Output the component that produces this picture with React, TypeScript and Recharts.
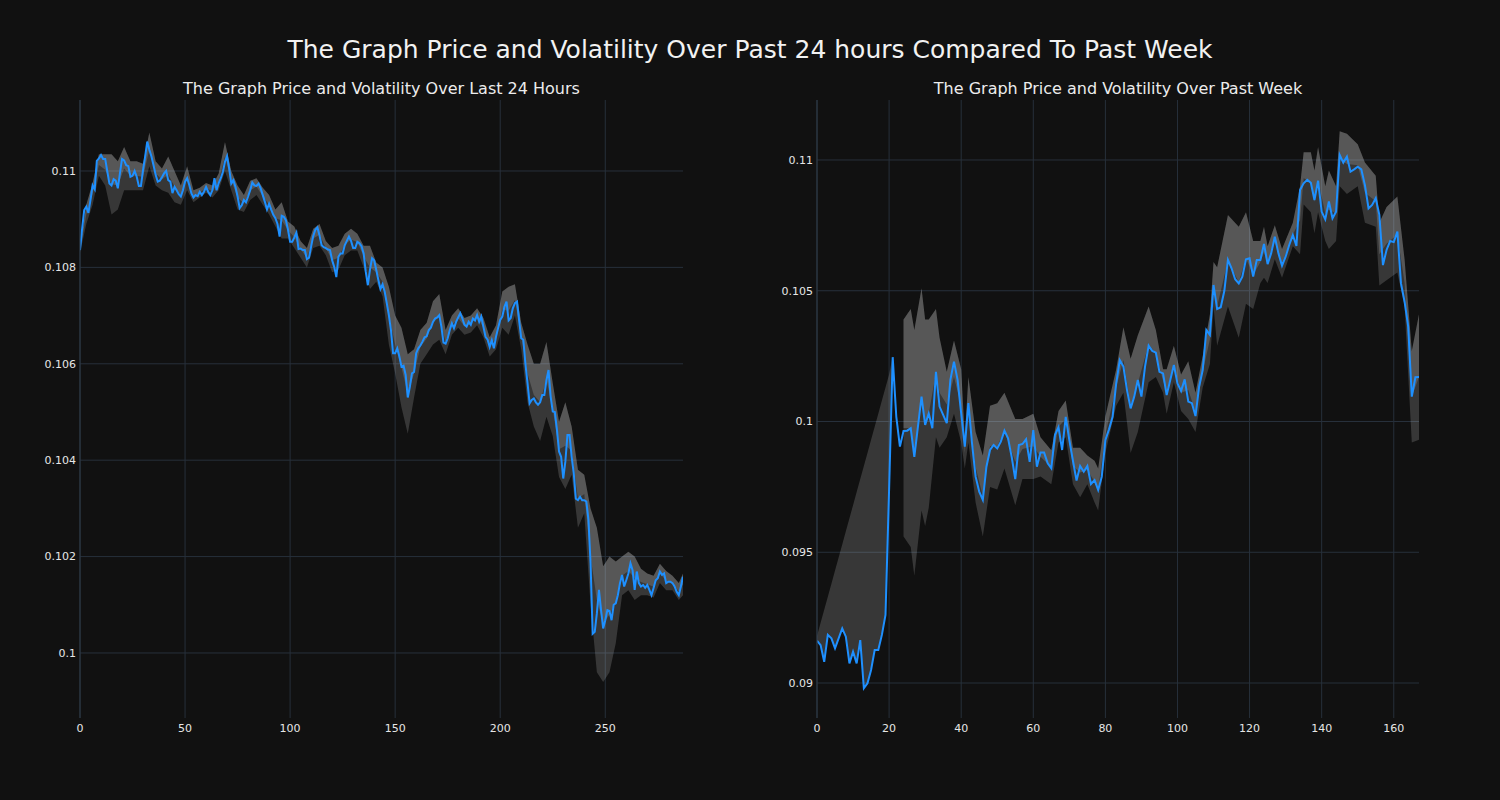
import React from "react";
import { ComposedChart, Line, Area, XAxis, YAxis, CartesianGrid } from "recharts";

// last 24 hours, 5 minute steps
const dayPrice = [
  0.10836, 0.1088, 0.10919, 0.10926, 0.10913, 0.1094, 0.1097, 0.10962, 0.11021, 0.11026, 0.11033, 0.11025,
  0.11025, 0.10999, 0.10974, 0.1097, 0.10983, 0.1098, 0.10964, 0.10995, 0.11025, 0.11022, 0.11012, 0.1101,
  0.10988, 0.1099, 0.11, 0.10988, 0.10969, 0.10969, 0.11002, 0.1103, 0.11061, 0.11044, 0.1103, 0.11012,
  0.10992, 0.10978, 0.1098, 0.10987, 0.10995, 0.11, 0.10981, 0.10978, 0.10954, 0.10967, 0.1096, 0.10952,
  0.10947, 0.1096, 0.10978, 0.10985, 0.10971, 0.10954, 0.10945, 0.1095, 0.10948, 0.10957, 0.1095, 0.10957,
  0.10967, 0.10957, 0.1095, 0.1096, 0.10985, 0.1096, 0.10975, 0.10985, 0.10998, 0.11019, 0.11031, 0.11005,
  0.10974, 0.10981, 0.10967, 0.10947, 0.10923, 0.10929, 0.1094, 0.10935, 0.10947, 0.1096, 0.10976, 0.1097,
  0.10969, 0.10974, 0.10964, 0.1095, 0.10936, 0.1092, 0.10932, 0.1092, 0.10909, 0.10902, 0.1089, 0.10864,
  0.10907, 0.10905, 0.10898, 0.10878, 0.10853, 0.10853, 0.10862, 0.10872, 0.10838, 0.10839, 0.10836, 0.10836,
  0.10817, 0.1082, 0.10843, 0.10865, 0.10878, 0.10883, 0.10866, 0.10846, 0.10842, 0.1084, 0.10837, 0.10836,
  0.10815, 0.10801, 0.1078, 0.10822, 0.10829, 0.10829, 0.10846, 0.10855, 0.10864, 0.10855, 0.1084, 0.1084,
  0.10853, 0.1085, 0.10844, 0.10829, 0.10791, 0.10763, 0.10795, 0.10819, 0.10815, 0.10795, 0.10774, 0.10755,
  0.10765, 0.1075, 0.10726, 0.10701, 0.1067, 0.10622, 0.10622, 0.10632, 0.10615, 0.10594, 0.10596, 0.10577,
  0.1053, 0.10552, 0.1058, 0.10583, 0.10622, 0.10632, 0.10638, 0.10646, 0.10655, 0.10657, 0.1067, 0.10675,
  0.10687, 0.10694, 0.10696, 0.10701, 0.10677, 0.10644, 0.10642, 0.10653, 0.1067, 0.10684, 0.10674, 0.10687,
  0.10696, 0.10705, 0.10694, 0.10681, 0.10677, 0.10687, 0.10681, 0.10694, 0.1069, 0.10701, 0.10687, 0.10698,
  0.10677, 0.10656, 0.1065, 0.10635, 0.10649, 0.10632, 0.10656, 0.10674, 0.10691, 0.10698, 0.10718, 0.10729,
  0.1069, 0.10695, 0.10715, 0.10726, 0.10729, 0.1069, 0.10653, 0.1065, 0.106, 0.1056, 0.10518, 0.10525,
  0.10528, 0.1052, 0.10515, 0.1052, 0.10535, 0.10535, 0.10566, 0.10587, 0.10532, 0.10501, 0.105, 0.10463,
  0.10418, 0.10407, 0.10362, 0.10397, 0.10452, 0.10452, 0.10407, 0.10373, 0.1032, 0.10317, 0.10324, 0.10317,
  0.10317, 0.10314, 0.10276, 0.10186, 0.1004, 0.10044, 0.10082, 0.10131, 0.10089, 0.10051, 0.10068, 0.10089,
  0.10087, 0.10068, 0.101, 0.10103, 0.1012, 0.10145, 0.10162, 0.10138, 0.10151, 0.10165, 0.10186, 0.10172,
  0.10131, 0.10169, 0.10145, 0.10138, 0.10141, 0.10135, 0.10141, 0.10131, 0.1012, 0.10135, 0.10151, 0.10155,
  0.10169, 0.10162, 0.10165, 0.10145, 0.10148, 0.10148, 0.10145, 0.10138, 0.10127, 0.1012, 0.10138, 0.10158,
];

// volatility band, read every few steps
const dayBandX = [
  0, 3, 6, 9, 12, 15, 18, 21, 24, 27, 30, 33, 36, 39, 42, 45, 48, 51, 54, 57, 60, 63, 66, 69,
  72, 75, 78, 81, 84, 87, 90, 93, 96, 99, 102, 105, 108, 111, 114, 117, 120, 123, 126, 129, 132, 135, 138, 141,
  144, 147, 150, 153, 156, 159, 162, 165, 168, 171, 174, 177, 180, 183, 186, 189, 192, 195, 198, 201, 204, 207,
  210, 213, 216, 219, 222, 225, 228, 231, 234, 237, 240, 243, 246, 249, 252, 255, 258, 261, 264, 267, 270, 273,
  276, 279, 282, 285, 287,
];
const dayBandLow = [
  0.1083, 0.1089, 0.1093, 0.1099, 0.1097, 0.1091, 0.1092, 0.1096, 0.1096, 0.1096, 0.1096, 0.1101, 0.1097, 0.1096,
  0.10955, 0.10935, 0.1093, 0.1096, 0.10935, 0.10945, 0.10955, 0.10945, 0.1096, 0.11, 0.1096, 0.1092, 0.10915,
  0.1094, 0.1095, 0.1093, 0.1091, 0.10885, 0.1086, 0.1086, 0.1084, 0.1082, 0.108, 0.1084, 0.10845, 0.10825,
  0.1079, 0.10795, 0.10825, 0.10835, 0.10835, 0.108, 0.10755, 0.1077, 0.1074, 0.1064, 0.1058, 0.1051, 0.10455,
  0.1053, 0.106, 0.1062, 0.1064, 0.1065, 0.1062, 0.1066, 0.10675, 0.1066, 0.10665, 0.1068, 0.10655, 0.10615,
  0.1063, 0.10675, 0.1066, 0.107, 0.1063, 0.1052, 0.1047, 0.1044, 0.1049, 0.1045, 0.10365, 0.1034, 0.1037,
  0.1026, 0.1029, 0.101, 0.0996, 0.0994, 0.0996, 0.1002, 0.1012, 0.1013, 0.1011, 0.1012, 0.1012, 0.10115,
  0.10145, 0.1013, 0.1013, 0.1011, 0.1012,
];
const dayBandHigh = [
  0.1084, 0.1093, 0.10975, 0.11035, 0.11035, 0.11035, 0.1102, 0.1105, 0.1102, 0.1102, 0.11015, 0.1108, 0.1102,
  0.11005, 0.1103, 0.11, 0.1097, 0.1101, 0.1096, 0.10965, 0.10975, 0.1097, 0.10995, 0.1106, 0.11, 0.1097,
  0.1095, 0.1098, 0.10985, 0.10965, 0.1095, 0.1092, 0.10935, 0.10895, 0.10885, 0.10855, 0.1084, 0.1088,
  0.1089, 0.10855, 0.1084, 0.10845, 0.1087, 0.1088, 0.1087, 0.10845, 0.10845, 0.1081, 0.108, 0.1076, 0.107,
  0.10675, 0.1062, 0.1063, 0.1067, 0.10685, 0.1073, 0.10745, 0.1067, 0.107, 0.10715, 0.10695, 0.107, 0.10715,
  0.10695, 0.10655, 0.1068, 0.1075, 0.1076, 0.10765, 0.10685, 0.1064, 0.106, 0.106, 0.10645, 0.1056, 0.1048,
  0.1052, 0.1047, 0.1038, 0.1037, 0.103, 0.1026, 0.1018, 0.102, 0.1019, 0.102, 0.1021, 0.102, 0.10175,
  0.10165, 0.1016, 0.10185, 0.1017, 0.1016, 0.10145, 0.10165,
];

// past week, hourly steps
const weekPrice = [
  0.09162, 0.09145, 0.09081, 0.09184, 0.09171, 0.09133, 0.09171, 0.09209, 0.09177, 0.09075, 0.0912, 0.09075,
  0.09164, 0.0898, 0.08999, 0.0905, 0.09126, 0.09126, 0.09184, 0.0926, 0.0974, 0.10246, 0.10018, 0.09904,
  0.09964, 0.09965, 0.09974, 0.09865, 0.0998, 0.10095, 0.09987, 0.10031, 0.09974, 0.1019, 0.10057, 0.10025,
  0.09994, 0.10159, 0.10229, 0.10159, 0.10031, 0.09904, 0.1007, 0.09917, 0.09789, 0.09732, 0.097, 0.09827,
  0.09891, 0.0991, 0.09897, 0.09923, 0.09965, 0.09936, 0.09865, 0.0978, 0.0991, 0.09914, 0.09932, 0.09846,
  0.09967, 0.09827, 0.09881, 0.09881, 0.0984, 0.09821, 0.09948, 0.09978, 0.09891, 0.10018, 0.09929, 0.0985,
  0.09774, 0.0983, 0.09808, 0.0983, 0.09761, 0.09776, 0.09738, 0.09789, 0.09929, 0.0997, 0.10018, 0.10146,
  0.10235, 0.1021, 0.1012, 0.1005, 0.10095, 0.10159, 0.10095, 0.1021, 0.1029, 0.1027, 0.10263, 0.1019,
  0.10184, 0.10101, 0.10159, 0.10216, 0.10146, 0.10117, 0.10161, 0.10076, 0.1007, 0.10021, 0.10133, 0.10197,
  0.1035, 0.10331, 0.10522, 0.1043, 0.10437, 0.105, 0.10618, 0.10586, 0.10544, 0.10528, 0.10554, 0.1062,
  0.10624, 0.10554, 0.10618, 0.10618, 0.10679, 0.10602, 0.10643, 0.10707, 0.10643, 0.10596, 0.1063, 0.10675,
  0.10713, 0.10671, 0.10885, 0.10911, 0.10924, 0.10913, 0.10847, 0.10921, 0.10802, 0.10773, 0.10841, 0.10777,
  0.10802, 0.11019, 0.1099, 0.11013, 0.10955, 0.10964, 0.10974, 0.10964, 0.10904, 0.10815, 0.10828, 0.10854,
  0.1079, 0.10598, 0.10656, 0.1069, 0.10686, 0.10726, 0.10528, 0.10458, 0.10363, 0.10095, 0.10169, 0.1017,
];

// first hours: the band only has a top edge, its bottom is the price itself
const weekRampTop = [
  0.0918, 0.0923, 0.0928, 0.0933, 0.0938, 0.0943, 0.0948, 0.0953, 0.0958, 0.0963, 0.0968,
  0.0973, 0.0978, 0.0983, 0.0988, 0.0993, 0.0998, 0.1003, 0.1008, 0.1013, 0.1018, 0.1025,
];

const weekBandX = [
  24, 26, 27, 29, 30, 31, 33, 34, 36, 38, 40, 41, 42, 44, 46, 48, 50, 52, 55, 57, 60, 62, 65, 67, 69, 71, 73,
  75, 77, 78, 80, 83, 85, 87, 89, 92, 94, 96, 97, 99, 101, 103, 105, 107, 109, 110, 111, 114, 117, 119, 121,
  123, 124, 125, 127, 129, 132, 134, 135, 137, 138, 139, 141, 142, 144, 145, 147, 150, 152, 155, 156, 158,
  161, 163, 165, 167,
];
const weekBandLow = [
  0.0956, 0.0952, 0.0941, 0.0966, 0.096, 0.0967, 0.0994, 0.099, 0.0994, 0.1003, 0.0992, 0.0982, 0.0992,
  0.0969, 0.0956, 0.0975, 0.0974, 0.0982, 0.0968, 0.0978, 0.0978, 0.0979, 0.0976, 0.0992, 0.0994, 0.0976,
  0.0971, 0.0976, 0.0969, 0.0966, 0.0988, 0.1006, 0.1011, 0.0988, 0.0996, 0.1015, 0.1017, 0.1011, 0.1003,
  0.1015, 0.1004, 0.1001, 0.0996, 0.1013, 0.1022, 0.1044, 0.1029, 0.1044, 0.1032, 0.1045, 0.1043, 0.1053,
  0.1055, 0.1053, 0.1062, 0.1055, 0.1067, 0.1064, 0.1083, 0.108, 0.1072, 0.108, 0.1069, 0.1066, 0.1069,
  0.109, 0.1087, 0.109, 0.1076, 0.10745, 0.1052, 0.1054, 0.1057, 0.1044, 0.0992, 0.0993,
];
const weekBandHigh = [
  0.1039, 0.1043, 0.1035, 0.1051, 0.1039, 0.1039, 0.1043, 0.1032, 0.1019, 0.1031, 0.102, 0.0994, 0.1017,
  0.0996, 0.0987, 0.1006, 0.1007, 0.1011, 0.1001, 0.1001, 0.1003, 0.0994, 0.0989, 0.1004, 0.1008, 0.099,
  0.099, 0.0987, 0.0985, 0.0982, 0.1002, 0.102, 0.1036, 0.1024, 0.1033, 0.1044, 0.1035, 0.102, 0.102,
  0.1029, 0.1018, 0.1023, 0.1011, 0.1025, 0.1041, 0.1061, 0.1059, 0.1079, 0.10745, 0.108, 0.1069, 0.1069,
  0.10745, 0.1067, 0.1075, 0.1066, 0.1076, 0.109, 0.1103, 0.1103, 0.1096, 0.1105, 0.109, 0.1096, 0.109,
  0.1111, 0.111, 0.1106, 0.1099, 0.1094, 0.1076, 0.1082, 0.1086, 0.1062, 0.1027, 0.1041,
];

const dayTicksX = [0, 50, 100, 150, 200, 250];
const dayTicksY = [0.1, 0.102, 0.104, 0.106, 0.108, 0.11];
const weekTicksX = [0, 20, 40, 60, 80, 100, 120, 140, 160];
const weekTicksY = [0.09, 0.095, 0.1, 0.105, 0.11];

const BG = "#111111";
const GRID = "#27303b";
const BLUE = "#1e90ff";
const FONT = "DejaVu Sans, sans-serif";
const tickStyle = { fill: "#e6e6e6", fontSize: 11, fontFamily: FONT };

const dayLine = dayPrice.map((p, i) => ({ x: i, price: p }));
const dayBand = dayBandX.map((x, k) => ({
  x,
  band: [dayBandLow[k], dayBandHigh[k]],
  core: [(dayBandLow[k] + dayBandHigh[k]) / 2, dayBandHigh[k]],
}));

const weekLine = weekPrice.map((p, i) => ({ x: i, price: p }));
const weekRamp = weekRampTop.map((t, i) => ({ x: i, band: [weekPrice[i], t] }));
const weekBand = weekBandX.map((x, k) => ({
  x,
  band: [weekBandLow[k], weekBandHigh[k]],
  core: [(weekBandLow[k] + weekBandHigh[k]) / 2, weekBandHigh[k]],
}));

type PanelProps = {
  left: number;
  title: string;
  line: { x: number; price: number }[];
  bands: { x: number; band: number[]; core?: number[] }[][];
  xMax: number;
  xTicks: number[];
  yDomain: [number, number];
  yTicks: number[];
  rightMargin: number;
};

function Panel({ left, title, line, bands, xMax, xTicks, yDomain, yTicks, rightMargin }: PanelProps) {
  const plotLeft = left + 80;
  const plotWidth = 700 - 80 - rightMargin;
  return (
    <>
      <div
        style={{
          position: "absolute",
          left: plotLeft,
          top: 80,
          width: plotWidth,
          textAlign: "center",
          color: "#ececec",
          fontFamily: FONT,
          fontSize: 16,
          lineHeight: "18px",
        }}
      >
        {title}
      </div>
      <div style={{ position: "absolute", left, top: 0 }}>
        <ComposedChart width={700} height={760} margin={{ top: 100, right: rightMargin, left: 0, bottom: 12 }}>
          <CartesianGrid stroke={GRID} strokeWidth={1} syncWithTicks />
          <XAxis
            type="number"
            dataKey="x"
            domain={[0, xMax]}
            ticks={xTicks}
            allowDataOverflow
            axisLine={false}
            tickLine={false}
            tickSize={0}
            tickMargin={6}
            height={30}
            tick={tickStyle}
          />
          <YAxis
            type="number"
            domain={yDomain}
            ticks={yTicks}
            allowDataOverflow
            width={80}
            axisLine={{ stroke: "#2f3a48" }}
            tickLine={false}
            tickSize={0}
            tickMargin={4}
            tick={tickStyle}
            tickFormatter={(v: number) => String(v)}
          />
          {bands.map((b, k) => (
            <Area
              key={"band" + k}
              data={b}
              dataKey="band"
              type="linear"
              stroke="none"
              fill="#ffffff"
              fillOpacity={0.16}
              isAnimationActive={false}
            />
          ))}
          {bands
            .filter((b) => b[0].core)
            .map((b, k) => (
              <Area
                key={"core" + k}
                data={b}
                dataKey="core"
                type="linear"
                stroke="none"
                fill="#ffffff"
                fillOpacity={0.16}
                isAnimationActive={false}
              />
            ))}
          <Line
            data={line}
            dataKey="price"
            type="linear"
            stroke={BLUE}
            strokeWidth={2}
            dot={false}
            isAnimationActive={false}
          />
        </ComposedChart>
      </div>
    </>
  );
}

export default function App() {
  return (
    <div style={{ position: "absolute", left: 0, top: 0, width: 1500, height: 800, background: BG, overflow: "hidden" }}>
      <div
        style={{
          position: "absolute",
          left: 0,
          top: 35,
          width: 1500,
          textAlign: "center",
          color: "#f2f2f2",
          fontFamily: FONT,
          fontSize: 25,
          lineHeight: "30px",
        }}
      >
        The Graph Price and Volatility Over Past 24 hours Compared To Past Week
      </div>
      <Panel
        left={0}
        title="The Graph Price and Volatility Over Last 24 Hours"
        line={dayLine}
        bands={[dayBand]}
        xMax={287}
        xTicks={dayTicksX}
        yDomain={[0.098651, 0.111473]}
        yTicks={dayTicksY}
        rightMargin={17}
      />
      <Panel
        left={737}
        title="The Graph Price and Volatility Over Past Week"
        line={weekLine}
        bands={[weekRamp, weekBand]}
        xMax={167}
        xTicks={weekTicksX}
        yDomain={[0.088662, 0.112294]}
        yTicks={weekTicksY}
        rightMargin={18}
      />
    </div>
  );
}
